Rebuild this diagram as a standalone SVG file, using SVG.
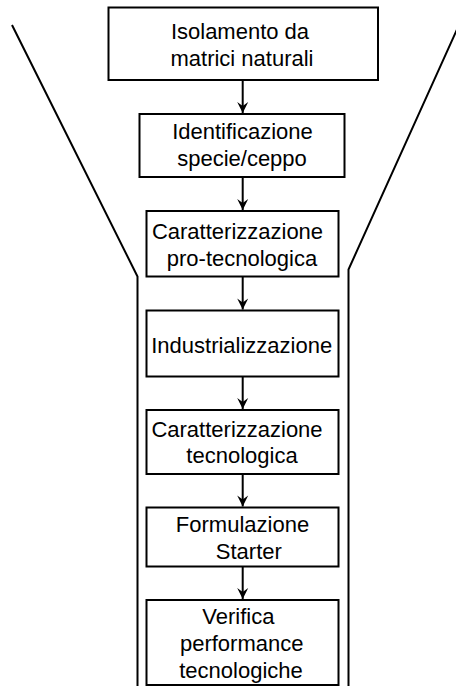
<svg xmlns="http://www.w3.org/2000/svg" width="456" height="686" viewBox="0 0 456 686">
<style>
.box{fill:#fff;stroke:#000;stroke-width:2}
.t{font-family:"Liberation Sans",Arial,sans-serif;font-size:22px;fill:#000;text-anchor:middle}
.funnel{fill:none;stroke:#000;stroke-width:2}
.conn{fill:none;stroke:#000;stroke-width:2}
</style>
<defs>
<marker id="ah" markerUnits="userSpaceOnUse" markerWidth="14" markerHeight="14" viewBox="-12 -7 14 14" refX="0" refY="0" orient="auto">
<path d="M0,0 L-11,-5.5 L-7,0 L-11,5.5 Z" fill="#000"/>
</marker>
</defs>
<rect width="456" height="686" fill="#fff"/>
<g id="funnel">
<polyline class="funnel" points="12,25 137.5,276.5 137.5,686"/>
<polyline class="funnel" points="459,25 348.5,269.5 348.5,686"/>
</g>
<g id="connectors">
<line class="conn" x1="242.7" y1="80" x2="242.7" y2="113" marker-end="url(#ah)"/>
<line class="conn" x1="242.7" y1="177" x2="242.7" y2="210" marker-end="url(#ah)"/>
<line class="conn" x1="242.7" y1="276" x2="242.7" y2="309.5" marker-end="url(#ah)"/>
<line class="conn" x1="242.7" y1="377" x2="242.7" y2="409" marker-end="url(#ah)"/>
<line class="conn" x1="242.7" y1="470" x2="242.7" y2="506.5" marker-end="url(#ah)"/>
<line class="conn" x1="242.7" y1="567" x2="242.7" y2="599" marker-end="url(#ah)"/>
</g>
<g id="n1">
<rect class="box" x="108.5" y="7.5" width="269.5" height="72.5"/>
<text class="t" x="240" y="39">Isolamento da</text>
<text class="t" x="242" y="66">matrici naturali</text>
</g>
<g id="n2">
<rect class="box" x="139.5" y="114" width="205" height="63"/>
<text class="t" x="242.5" y="139">Identificazione</text>
<text class="t" x="242" y="166">specie/ceppo</text>
</g>
<g id="n3">
<rect class="box" x="146.5" y="211" width="192" height="65.5"/>
<text class="t" x="237.5" y="239">Caratterizzazione</text>
<text class="t" x="242" y="266">pro-tecnologica</text>
</g>
<g id="n4">
<rect class="box" x="146.5" y="310.5" width="192" height="66"/>
<text class="t" x="241.7" y="352.7">Industrializzazione</text>
</g>
<g id="n5">
<rect class="box" x="146.5" y="410" width="192" height="64"/>
<text class="t" x="237" y="436.7">Caratterizzazione</text>
<text class="t" x="242" y="463.3">tecnologica</text>
</g>
<g id="n6">
<rect class="box" x="146.5" y="507.5" width="192" height="59"/>
<text class="t" x="242.5" y="531.7">Formulazione</text>
<text class="t" x="248.8" y="559.3">Starter</text>
</g>
<g id="n7">
<rect class="box" x="146.5" y="600" width="192" height="85"/>
<text class="t" x="238.3" y="623.5">Verifica</text>
<text class="t" x="241.7" y="651">performance</text>
<text class="t" x="241" y="678">tecnologiche</text>
</g>
</svg>
